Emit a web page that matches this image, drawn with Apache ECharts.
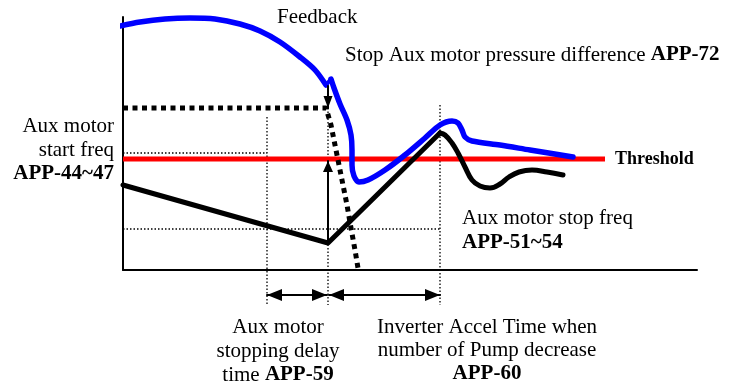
<!DOCTYPE html>
<html>
<head>
<meta charset="utf-8">
<script src="https://cdn.jsdelivr.net/npm/echarts@6/dist/echarts.min.js"></script>
<style>html,body{margin:0;padding:0;background:#fff}#c{width:740px;height:387px}</style>
</head>
<body>
<div id="c"></div>
<script>
// Chart units: x = time, y = level (frequency / pressure)
const feedbackRise = [[-3,244],[17,248],[42,251],[67,252],[92,251],[117,246],[137,239],[157,228],[177,213],[192,200],[203,185]];
const feedbackNotch = [[203,185],[208,191]];
const feedbackFall = [[208,191],[211,182],[217,166],[224,150],[228,135],[229,120],[229,105],[231,94],[236,88],[245,90],[262,100],[282,115],[302,132],[317,145],[329,149],[335,147],[339,140],[342,133],[349,129],[377,125],[407,120],[450,113]];
const auxFreqRamp = [[0,85],[205,27],[317,137]];
const auxFreqTail = [[317,137],[322,135],[329,127],[335,117],[342,103],[349,90],[357,84],[367,82],[377,86],[386,93],[396,98],[409,100],[424,98],[440,95]];
const threshold = [[0,111],[482,111]];
const stopPressure = [[0,162],[203,162],[205,160],[208,145],[212,125],[216,105],[220,85],[224,65],[228,42],[232,20],[235,2]];
const guideLines = [
  [[0,117],[144,117]],
  [[144,153],[144,-35]],
  [[0,41],[317,41]],
  [[205,162],[205,-35]],
  [[317,165],[317,-35]]
];
const downArrow = [[205,184],[205,162]];
const upArrow = [[205,27],[205,109]];
const delayArrow = [[144,-25],[204,-25]];
const accelArrow = [[206,-25],[317,-25]];

const FONT = '"Liberation Serif", "Times New Roman", serif';
const SYM = {
  right: 'path://M0,0L10,5L0,10Z',
  left: 'path://M10,0L0,5L10,10Z',
  up: 'path://M0,10L5,0L10,10Z',
  down: 'path://M0,0L10,0L5,10Z'
};

function lineSeries(data, color, width, type, smooth, z) {
  return { type: 'line', data: data, showSymbol: false, symbol: 'none', clip: false, smooth: smooth || false,
    lineStyle: { color: color, width: width, type: type || 'solid', cap: 'round', join: 'round' }, z: z || 2, silent: true };
}
const series = [];
guideLines.forEach(g => { const s = lineSeries(g, '#000', 1.3, [1.5, 2], false, 1); s.lineStyle.cap = 'butt'; series.push(s); });
const thr = lineSeries(threshold, '#ff0000', 5, 'solid', false, 3); thr.lineStyle.cap = 'butt'; series.push(thr);
const sp = lineSeries(stopPressure, '#000', 5, [5, 4.5], false, 4); sp.lineStyle.cap = 'butt'; series.push(sp);
series.push(lineSeries(auxFreqRamp, '#000', 5, 'solid', false, 5));
series.push(lineSeries(auxFreqTail, '#000', 5, 'solid', 0.4, 5));
series.push(lineSeries(feedbackRise, '#0000ff', 5.5, 'solid', 0.3, 6));
series.push(lineSeries(feedbackNotch, '#0000ff', 4, 'solid', false, 6));
series.push(lineSeries(feedbackFall, '#0000ff', 5.5, 'solid', 0.3, 6));
series.push(lineSeries(downArrow, '#000', 2, 'solid', false, 7));
series.push(lineSeries(upArrow, '#000', 2, 'solid', false, 7));
series.push(lineSeries(delayArrow, '#000', 2, 'solid', false, 7));
series.push(lineSeries(accelArrow, '#000', 2, 'solid', false, 7));
series.push({
  type: 'scatter', clip: false, silent: true, z: 8, itemStyle: { color: '#000', opacity: 1 },
  data: [
    { value: downArrow[1], symbol: SYM.down, symbolSize: [9, 12], symbolOffset: [0, '-50%'] },
    { value: upArrow[1], symbol: SYM.up, symbolSize: [10, 11], symbolOffset: [0, '50%'] },
    { value: delayArrow[0], symbol: SYM.left, symbolSize: [15, 12], symbolOffset: ['50%', 0] },
    { value: delayArrow[1], symbol: SYM.right, symbolSize: [15, 12], symbolOffset: ['-50%', 0] },
    { value: accelArrow[0], symbol: SYM.left, symbolSize: [15, 12], symbolOffset: ['50%', 0] },
    { value: accelArrow[1], symbol: SYM.right, symbolSize: [15, 12], symbolOffset: ['-50%', 0] }
  ]
});

function txt(x, y, text, align, bold, size) {
  const f = (bold ? 'bold ' : '') + (size || 21) + 'px ' + FONT;
  return { type: 'text', x: x, y: y, silent: true, z: 100,
    style: { text: text, fill: '#000', font: f, textAlign: align, textVerticalAlign: 'middle',
      rich: { b: { font: 'bold ' + (size || 21) + 'px ' + FONT, fill: '#000' }, n: { font: (size || 21) + 'px ' + FONT, fill: '#000' } } } };
}
const graphics = [
  txt(277, 17, 'Feedback', 'left'),
  txt(345, 55, '{n|Stop Aux motor pressure difference }{b|APP-72}', 'left'),
  txt(114, 126, 'Aux motor', 'right'),
  txt(114, 150, 'start freq', 'right'),
  txt(114, 174, 'APP-44~47', 'right', true),
  txt(615, 159, 'Threshold', 'left', true, 18),
  txt(462, 218, 'Aux motor stop freq', 'left'),
  txt(462, 243, 'APP-51~54', 'left', true),
  txt(278, 327, 'Aux motor', 'center'),
  txt(278, 351, 'stopping delay', 'center'),
  txt(278, 375, '{n|time }{b|APP-59}', 'center'),
  txt(487, 327, 'Inverter Accel Time when', 'center'),
  txt(487, 350, 'number of Pump decrease', 'center'),
  txt(487, 374, 'APP-60', 'center', true)
];

const chart = echarts.init(document.getElementById('c'), null, { renderer: 'canvas' });
chart.setOption({
  animation: false,
  backgroundColor: '#fff',
  grid: { left: 123, top: 17, right: 43, bottom: 117, containLabel: false },
  xAxis: { type: 'value', min: 0, max: 574, axisLine: { show: true, onZero: false, lineStyle: { color: '#000', width: 2 } },
    axisTick: { show: false }, axisLabel: { show: false }, splitLine: { show: false } },
  yAxis: { type: 'value', min: 0, max: 253, axisLine: { show: true, onZero: false, lineStyle: { color: '#000', width: 2 } },
    axisTick: { show: false }, axisLabel: { show: false }, splitLine: { show: false } },
  series: series,
  graphic: graphics
});
</script>
</body>
</html>
